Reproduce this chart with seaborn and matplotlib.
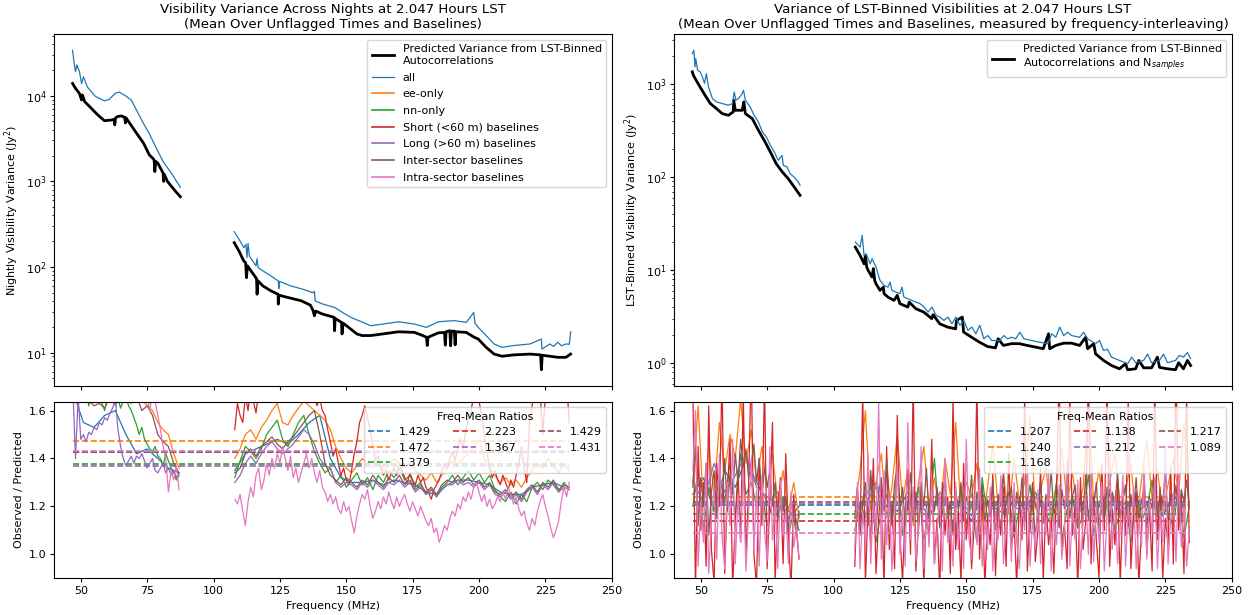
import numpy as np
import matplotlib
matplotlib.use("Agg")
import matplotlib.pyplot as plt
import seaborn as sns

plt.rcParams.update({
    "font.size": 8,
    "xtick.major.size": 2.8, "ytick.major.size": 2.8,
    "xtick.major.pad": 2.8, "ytick.major.pad": 2.8,
    "ytick.minor.size": 1.6, "axes.labelpad": 3.2,
})

# Series names and colours (tab10 order)
series_labels = ["all", "ee-only", "nn-only", "Short (<60 m) baselines",
                 "Long (>60 m) baselines", "Inter-sector baselines",
                 "Intra-sector baselines"]
palette = sns.color_palette("tab10")[:7]

# ---------------- top left: nightly variance (Jy^2) ----------------
nv_all_lo_f = [46.9, 47.4, 48.0, 48.5, 49.5, 50.3, 51.0, 52.5, 55.5, 58.9, 60.8,
               63.0, 64.5, 66.8, 69.0, 71.3, 73.5, 75.8, 78.0, 81.0, 84.0, 87.5]
nv_all_lo = [33900, 25100, 19100, 22900, 19100, 13800, 16600, 12600, 9800, 8700, 9100,
             10700, 11000, 10000, 8900, 6500, 4800, 3600, 2600, 1700, 1260, 850]
nv_pred_lo_f = [46.9, 48.0, 49.5, 50.3, 50.6, 51.5, 54.0, 56.3, 58.9, 61.6, 62.5,
                62.8, 63.1, 63.8, 65.3, 66.5, 66.8, 67.1, 67.6, 70.6, 73.6, 75.8,
                77.6, 77.9, 78.2, 79.0, 81.0, 81.2, 81.5, 82.6, 85.6, 87.5]
nv_pred_lo = [13900, 12200, 10600, 8900, 10200, 8500, 7100, 6000, 5100, 5200, 5300,
              4560, 5500, 5700, 5800, 5600, 4800, 5500, 5200, 3800, 2800, 2040,
              1790, 1300, 1710, 1630, 1250, 1000, 1200, 1000, 770, 660]
nv_all_hi_f = [107.8, 109.6, 111.4, 112.2, 112.6, 113.0, 113.5, 116.0, 116.4, 116.8,
               118.6, 121.6, 124.4, 124.6, 124.8, 129.1, 133.6, 137.4, 138.0, 138.3,
               141.2, 145.6, 148.6, 151.7, 154.7, 159.2, 163.7, 169.7, 175.7, 180.2,
               184.7, 190.7, 195.2, 198.0, 198.5, 199.7, 202.7, 205.7, 208.7, 213.2,
               219.2, 223.5, 223.7, 226.7, 228.0, 229.7, 231.0, 232.7, 234.0, 234.5]
nv_all_hi = [258, 210, 168, 184, 129, 188, 134, 103, 125, 98,
             90, 78.5, 68.7, 56, 68, 60, 55, 50, 52, 40,
             36.8, 33.7, 29.4, 25.8, 23.6, 20.6, 21.5, 22.9, 21.5, 19.7,
             22.9, 23.6, 22.5, 29.4, 22, 19.7, 15.8, 12.6, 11.5, 12.1,
             12.6, 14.4, 11.0, 12.6, 11.8, 13.2, 12.0, 12.6, 12.5, 17.5]
nv_pred_hi_f = [107.8, 109.6, 111.4, 112.1, 112.4, 112.8, 114.1, 116.2, 116.4, 116.7,
                118.6, 121.6, 124.3, 124.4, 124.6, 128.0, 133.0, 136.5, 137.5, 138.0,
                138.5, 141.0, 145.4, 145.6, 145.8, 148.2, 148.4, 148.8, 151.7, 154.0,
                156.0, 159.2, 163.7, 169.7, 175.7, 178.8, 180.2, 180.5, 180.8, 184.7,
                187.0, 187.3, 187.6, 189.0, 189.3, 189.6, 190.7, 191.0, 191.3, 195.2,
                198.2, 199.7, 202.7, 205.7, 208.7, 213.2, 219.2, 223.2, 223.5, 223.8,
                226.7, 229.7, 232.7, 234.5]
nv_pred_hi = [192, 153, 117, 112, 75, 103, 90, 73, 48, 69,
              60, 52.6, 48, 36.8, 46.8, 44, 40.3, 35.8, 30.8, 26.9,
              30.5, 28.2, 25.8, 18, 25.1, 22.5, 16.5, 22.1, 18.8, 16.5,
              15.8, 15.8, 16.5, 17.5, 17.2, 15.8, 15.1, 12.1, 15.1, 17,
              17.2, 12.2, 17.5, 18, 12, 17.8, 17.8, 12.3, 17.5, 17.2,
              15.1, 14.4, 11.5, 9.6, 9.06, 9.4, 9.6, 9.4, 6.3, 9.3,
              9.06, 8.8, 8.8, 9.6]

# ---------------- top right: LST-binned variance (Jy^2) ----------------
lv_all_lo_f = [46.8, 47.4, 47.8, 48.1, 48.8, 49.8, 50.6, 51.4, 52.1, 52.9, 54.4,
               55.9, 58.1, 60.4, 61.9, 62.6, 63.2, 64.1, 65.2, 66.1, 66.8, 68.6,
               70.1, 71.7, 73.2, 74.7, 76.2, 77.7, 79.2, 80.6, 81.1, 82.5, 83.7,
               85.2, 86.7, 87.4]
lv_all_lo = [2140, 2320, 1540, 1890, 1410, 1360, 1200, 1020, 1300, 935, 700,
             646, 620, 595, 620, 826, 673, 700, 761, 861, 673, 570,
             464, 393, 307, 271, 221, 187, 152, 172, 134, 129, 109,
             100, 89, 82]
lv_pred_lo_f = [46.8, 47.2, 48.6, 50.1, 51.6, 53.6, 55.9, 58.1, 60.4, 62.2, 62.4,
                63.0, 65.6, 66.2, 66.8, 69.4, 71.7, 73.9, 76.2, 78.4, 80.7, 82.9,
                85.2, 87.4]
lv_pred_lo = [1360, 1250, 1060, 898, 762, 620, 547, 483, 464, 504, 673,
              525, 525, 646, 483, 427, 320, 249, 187, 140, 114, 96.6,
              78.5, 63.8]
lv_all_hi_f = [108.2, 110.0, 110.8, 111.5, 112.3, 113.8, 114.5, 116.0, 117.5, 119.0,
               120.5, 121.3, 122.0, 123.5, 125.0, 125.8, 126.5, 128.0, 129.5, 131.0,
               132.6, 134.1, 135.6, 137.1, 138.6, 140.1, 141.6, 143.1, 144.6, 146.1,
               147.6, 149.1, 150.6, 152.1, 153.6, 155.1, 156.6, 158.1, 159.6, 162.6,
               164.1, 165.6, 167.1, 168.6, 170.2, 171.7, 174.7, 177.7, 180.7, 182.2,
               183.7, 185.2, 186.7, 188.2, 189.7, 192.7, 194.2, 195.7, 198.7, 200.2,
               201.7, 203.2, 204.7, 207.7, 210.8, 212.3, 213.8, 216.8, 218.3, 219.8,
               222.8, 224.3, 225.8, 228.8, 230.3, 231.8, 233.3, 234.5]
lv_all_hi = [20.1, 17.7, 23.7, 14.4, 15.0, 11.7, 13.3, 10.8, 7.77, 6.86,
             6.58, 7.45, 6.06, 5.82, 5.59, 6.58, 5.14, 4.93, 4.73, 4.54,
             4.36, 4.01, 3.54, 4.01, 3.26, 3.13, 2.88, 3.13, 2.65, 3.13,
             2.55, 2.88, 2.25, 2.44, 2.07, 2.55, 1.83, 1.98, 1.75, 1.75,
             1.98, 1.83, 1.90, 1.83, 2.15, 1.83, 1.75, 1.68, 1.62, 2.07,
             1.90, 2.44, 1.98, 2.15, 1.98, 1.90, 2.15, 1.83, 1.62, 1.75,
             1.37, 1.41, 1.16, 1.07, 0.985, 1.16, 1.01, 1.07, 1.25, 1.01,
             1.07, 1.25, 1.01, 1.07, 1.21, 1.16, 1.30, 1.12]
lv_pred_hi_f = [108.2, 110.0, 111.5, 112.0, 112.5, 113.0, 114.5, 115.0, 115.5, 116.0,
                117.5, 118.8, 119.0, 120.5, 122.8, 124.0, 125.0, 128.0, 128.5, 131.0,
                134.0, 137.0, 137.5, 140.0, 143.0, 146.0, 146.3, 148.5, 149.0, 152.0,
                155.0, 158.0, 161.0, 162.0, 164.0, 167.0, 170.0, 173.0, 176.0, 179.0,
                181.0, 181.4, 183.7, 186.7, 189.7, 192.7, 195.0, 195.7, 198.0, 198.7,
                201.7, 204.7, 207.7, 210.0, 210.8, 213.8, 215.0, 216.8, 219.8, 222.0,
                222.8, 225.8, 228.8, 230.0, 231.8, 233.3, 234.5]
lv_pred_hi = [17.7, 14.4, 11.7, 14.4, 10.8, 10.0, 8.44, 10.4, 7.77, 7.15,
              6.06, 6.58, 5.59, 5.14, 4.73, 5.36, 4.36, 4.01, 4.54, 3.85,
              3.54, 3.01, 3.32, 2.65, 2.44, 2.34, 2.88, 3.13, 2.16, 1.90,
              1.68, 1.51, 1.46, 1.83, 1.55, 1.62, 1.62, 1.55, 1.49, 1.43,
              2.07, 1.43, 1.55, 1.64, 1.64, 1.55, 1.90, 1.43, 1.62, 1.26,
              1.07, 0.944, 0.869, 0.985, 0.849, 0.869, 1.07, 0.891, 0.891, 1.16,
              0.90, 0.869, 0.849, 1.01, 0.869, 1.07, 0.944]

# ---------------- bottom left: observed / predicted (nightly) ----------------
f1_lo = np.arange(47, 88, 1)
f1_hi = np.arange(108, 235, 1)
f2_lo = np.arange(47, 88, 2)
f2_hi = np.arange(108, 235, 2)
f4_lo = np.arange(47, 88, 4)
f4_hi = np.arange(108, 235, 4)

nr_all_lo = [1.68, 1.55, 1.53, 1.58, 1.60, 1.50, 1.42, 1.44, 1.40, 1.36, 1.34]
nr_all_hi = [1.35, 1.42, 1.44, 1.46, 1.48, 1.46, 1.50, 1.55, 1.58, 1.40, 1.32, 1.30,
             1.30, 1.31, 1.29, 1.31, 1.30, 1.29, 1.26, 1.25, 1.29, 1.31, 1.31, 1.30,
             1.29, 1.26, 1.25, 1.25, 1.28, 1.29, 1.30, 1.28]
nr_ee_lo = [1.75, 1.72, 1.70, 1.73, 1.68, 1.71, 1.69, 1.72, 1.70, 1.68, 1.70,
            1.66, 1.68, 1.65, 1.62, 1.60, 1.55, 1.52, 1.50, 1.42, 1.36]
nr_ee_hi = [1.40, 1.44, 1.50, 1.52, 1.48, 1.53, 1.56, 1.60,
            1.63, 1.55, 1.54, 1.58, 1.61, 1.64, 1.62, 1.60,
            1.58, 1.56, 1.52, 1.45, 1.40, 1.36, 1.34, 1.37,
            1.40, 1.38, 1.36, 1.39, 1.35, 1.37, 1.40, 1.38,
            1.36, 1.39, 1.35, 1.33, 1.31, 1.34, 1.30, 1.33,
            1.36, 1.39, 1.37, 1.40, 1.42, 1.45, 1.48, 1.40,
            1.36, 1.33, 1.30, 1.32, 1.29, 1.31, 1.28, 1.32,
            1.35, 1.38, 1.36, 1.40, 1.37, 1.34, 1.38, 1.35]
nr_nn_lo = [1.72, 1.75, 1.68, 1.70, 1.66, 1.69, 1.62, 1.67, 1.70, 1.65,
            1.68, 1.63, 1.60, 1.66, 1.64, 1.68, 1.62, 1.65, 1.61, 1.64,
            1.66, 1.62, 1.60, 1.57, 1.54, 1.50, 1.53, 1.48, 1.46, 1.44,
            1.43, 1.45, 1.41, 1.40, 1.37, 1.42, 1.39, 1.36, 1.34, 1.31,
            1.33]
nr_nn_hi = [1.32, 1.39, 1.45, 1.43, 1.40, 1.44, 1.50, 1.53,
            1.56, 1.48, 1.45, 1.50, 1.55, 1.58, 1.50, 1.43,
            1.38, 1.34, 1.36, 1.30, 1.33, 1.28, 1.31, 1.34,
            1.29, 1.32, 1.27, 1.33, 1.30, 1.35, 1.32, 1.36,
            1.31, 1.33, 1.28, 1.30, 1.25, 1.27, 1.24, 1.28,
            1.30, 1.33, 1.29, 1.32, 1.35, 1.31, 1.34, 1.30,
            1.33, 1.27, 1.24, 1.22, 1.26, 1.21, 1.25, 1.22,
            1.28, 1.30, 1.27, 1.31, 1.29, 1.26, 1.30, 1.27]
nr_short_lo = [2.6, 2.4, 2.5, 2.3, 2.4, 2.2, 2.3, 2.1, 2.2, 2.0, 2.1,
               1.95, 2.0, 1.9, 1.85, 1.9, 1.8, 1.85, 1.75, 1.8, 1.7]
nr_short_hi = [1.52, 1.63, 1.58, 1.55, 1.66, 1.60, 1.70, 1.64, 1.59, 1.68,
               1.72, 1.75, 1.70, 1.78, 1.74, 1.80, 1.76, 1.73, 1.79, 1.75,
               1.77, 1.82, 1.74, 1.78, 1.80, 1.76, 1.72, 1.79, 1.74, 1.70,
               1.66, 1.62, 1.65, 1.60, 1.58, 1.52, 1.47, 1.41, 1.44, 1.38,
               1.33, 1.36, 1.31, 1.29, 1.35, 1.42, 1.47, 1.55, 1.58, 1.62,
               1.57, 1.52, 1.45, 1.39, 1.41, 1.36, 1.33, 1.35, 1.31, 1.34,
               1.36, 1.33, 1.38, 1.35, 1.32, 1.30, 1.34, 1.31, 1.29, 1.33,
               1.30, 1.32, 1.28, 1.26, 1.23, 1.27, 1.29, 1.31, 1.35, 1.38,
               1.36, 1.40, 1.43, 1.39, 1.45, 1.48, 1.44, 1.52, 1.56, 1.60,
               1.66, 1.70, 1.64, 1.58, 1.50, 1.42, 1.36, 1.32, 1.35, 1.31,
               1.29, 1.33, 1.30, 1.27, 1.31, 1.28, 1.33, 1.38, 1.45, 1.36,
               1.30, 1.55, 1.62, 1.70, 1.75, 1.68, 1.50, 1.66, 1.72, 1.80,
               1.76, 1.70, 1.82, 1.74, 1.68, 1.72, 1.55]
nr_long_lo = [1.70, 1.40, 1.66, 1.48, 1.50, 1.47, 1.51, 1.50, 1.53, 1.52,
              1.55, 1.54, 1.57, 1.56, 1.59, 1.61, 1.65, 1.52, 1.45, 1.40,
              1.37, 1.39, 1.41, 1.38, 1.41, 1.40, 1.42, 1.39, 1.36, 1.38,
              1.40, 1.35, 1.34, 1.36, 1.38, 1.34, 1.36, 1.33, 1.35, 1.32,
              1.34]
nr_long_hi = [1.30, 1.33, 1.38, 1.41, 1.38, 1.42, 1.45, 1.47,
              1.44, 1.42, 1.44, 1.46, 1.49, 1.52, 1.50, 1.46,
              1.40, 1.37, 1.36, 1.30, 1.28, 1.30, 1.29, 1.27,
              1.30, 1.28, 1.31, 1.29, 1.27, 1.30, 1.29, 1.31,
              1.28, 1.30, 1.26, 1.28, 1.25, 1.27, 1.24, 1.27,
              1.29, 1.29, 1.31, 1.29, 1.30, 1.28, 1.30, 1.27,
              1.29, 1.25, 1.24, 1.26, 1.23, 1.25, 1.22, 1.26,
              1.28, 1.25, 1.29, 1.27, 1.30, 1.26, 1.28, 1.27]
nr_inter_lo = [1.68, 1.70, 1.66, 1.64, 1.62, 1.63, 1.61, 1.66, 1.64, 1.67, 1.65,
               1.63, 1.66, 1.60, 1.62, 1.58, 1.50, 1.47, 1.45, 1.38, 1.34]
nr_inter_hi = [1.34, 1.36, 1.42, 1.44, 1.41, 1.45, 1.47, 1.49,
               1.46, 1.44, 1.47, 1.49, 1.52, 1.55, 1.58, 1.60,
               1.50, 1.38, 1.33, 1.31, 1.29, 1.32, 1.30, 1.28,
               1.31, 1.29, 1.33, 1.30, 1.28, 1.32, 1.30, 1.33,
               1.29, 1.31, 1.27, 1.29, 1.26, 1.28, 1.25, 1.29,
               1.31, 1.30, 1.33, 1.30, 1.32, 1.29, 1.31, 1.28,
               1.30, 1.26, 1.25, 1.27, 1.24, 1.26, 1.23, 1.27,
               1.29, 1.26, 1.30, 1.28, 1.31, 1.27, 1.29, 1.28]
nr_intra_lo = [1.70, 1.66, 1.82, 1.88, 1.85, 1.92, 1.87, 1.90, 1.84, 1.89,
               1.86, 1.91, 1.88, 1.85, 1.90, 1.87, 1.83, 1.86, 1.80, 1.84,
               1.78, 1.82, 1.76, 1.79, 1.74, 1.77, 1.72, 1.70, 1.66, 1.60,
               1.68, 1.64, 1.58, 1.52, 1.45, 1.40, 1.26, 1.35, 1.31, 1.37,
               1.27]
nr_intra_hi = [1.23, 1.21, 1.25, 1.18, 1.12, 1.22, 1.28, 1.24, 1.33, 1.36,
               1.27, 1.31, 1.38, 1.33, 1.40, 1.36, 1.42, 1.38, 1.45, 1.40,
               1.35, 1.41, 1.32, 1.36, 1.30, 1.34, 1.38, 1.42, 1.36, 1.40,
               1.34, 1.30, 1.35, 1.28, 1.26, 1.22, 1.25, 1.21, 1.24, 1.19,
               1.17, 1.22, 1.18, 1.20, 1.14, 1.09, 1.16, 1.21, 1.25, 1.23,
               1.27, 1.20, 1.15, 1.18, 1.22, 1.19, 1.24, 1.21, 1.26, 1.22,
               1.19, 1.24, 1.20, 1.23, 1.25, 1.21, 1.18, 1.22, 1.19, 1.16,
               1.20, 1.17, 1.14, 1.12, 1.15, 1.09, 1.11, 1.05, 1.08, 1.12,
               1.10, 1.15, 1.18, 1.16, 1.21, 1.19, 1.24, 1.22, 1.26, 1.23,
               1.28, 1.30, 1.26, 1.22, 1.25, 1.20, 1.23, 1.19, 1.21, 1.24,
               1.22, 1.26, 1.23, 1.28, 1.25, 1.21, 1.24, 1.19, 1.16, 1.18,
               1.13, 1.10, 1.15, 1.12, 1.18, 1.22, 1.25, 1.20, 1.16, 1.11,
               1.07, 1.10, 1.14, 1.22, 1.28, 1.24, 1.30]
nr_means = [1.429, 1.472, 1.379, 2.223, 1.367, 1.429, 1.431]

# ---------------- bottom right: observed / predicted (LST-binned) ----------------
lr_all_lo = [1.25, 1.32, 1.18, 1.35, 1.28, 1.40, 1.30, 1.22, 1.26, 1.15, 1.20]
lr_all_hi = [1.15, 1.25, 1.30, 1.20, 1.18, 1.26, 1.22, 1.16, 1.24, 1.19, 1.21,
             1.14, 1.25, 1.20, 1.17, 1.23, 1.19, 1.26, 1.15, 1.22, 1.20, 1.24,
             1.18, 1.21, 1.25, 1.17, 1.22, 1.19, 1.23, 1.16, 1.24, 1.20]
lr_ee_lo = [1.30, 1.62, 1.20, 1.45, 1.25, 1.55, 1.35, 1.50, 1.40, 1.65, 1.38,
            1.52, 1.30, 1.45, 1.28, 1.42, 1.22, 1.35, 1.18, 1.30, 1.15]
lr_ee_hi = [1.20, 1.35, 1.60, 1.18, 1.30, 1.42, 1.15, 1.28,
            1.50, 1.22, 1.36, 1.12, 1.30, 1.45, 1.20, 1.32,
            1.16, 1.40, 1.25, 1.55, 1.18, 1.30, 1.24, 1.38,
            1.14, 1.28, 1.46, 1.20, 1.33, 1.17, 1.40, 1.22,
            1.30, 1.58, 1.19, 1.27, 1.36, 1.15, 1.30, 1.44,
            1.21, 1.34, 1.18, 1.28, 1.62, 1.22, 1.35, 1.16,
            1.30, 1.42, 1.20, 1.27, 1.38, 1.14, 1.31, 1.48,
            1.23, 1.35, 1.18, 1.29, 1.40, 1.25, 1.55, 1.21]
lr_nn_lo = [1.20, 1.35, 1.10, 1.28, 1.18, 1.32, 1.22, 1.38, 1.15, 1.42, 1.25,
            1.30, 1.20, 1.26, 1.12, 1.22, 1.15, 1.24, 1.08, 1.18, 1.10]
lr_nn_hi = [1.10, 1.22, 1.15, 1.30, 1.05, 1.18, 1.25, 1.12,
            1.35, 1.08, 1.20, 1.14, 1.28, 1.06, 1.19, 1.40,
            1.11, 1.24, 1.16, 1.09, 1.27, 1.13, 1.21, 1.05,
            1.32, 1.15, 1.22, 1.10, 1.18, 1.26, 1.07, 1.20,
            1.14, 1.29, 1.09, 1.23, 1.17, 1.12, 1.30, 1.06,
            1.19, 1.24, 1.11, 1.16, 1.33, 1.08, 1.21, 1.15,
            1.27, 1.10, 1.18, 1.22, 1.05, 1.26, 1.14, 1.19,
            1.31, 1.09, 1.23, 1.16, 1.12, 1.28, 1.07, 1.20]
lr_short_lo = [1.70, 0.85, 1.45, 1.10, 1.30, 0.95, 1.62, 1.02, 0.88, 1.38,
               1.20, 1.75, 0.92, 1.25, 1.48, 0.86, 1.15, 1.35, 1.05, 1.68,
               0.98, 1.28, 1.80, 1.00, 0.87, 1.40, 1.12, 1.72, 0.94, 1.22,
               1.55, 0.89, 1.18, 1.32, 0.96, 1.42, 1.08, 0.86, 1.25, 1.10,
               0.98]
lr_short_hi = [0.95, 1.25, 1.10, 1.68, 0.88, 1.20, 1.05, 1.40, 0.92, 1.15,
               1.30, 0.86, 1.45, 1.02, 1.22, 0.94, 1.58, 1.08, 0.89, 1.18,
               1.35, 1.00, 1.72, 0.93, 1.12, 1.28, 0.87, 1.20, 1.05, 1.48,
               0.96, 1.15, 0.85, 1.30, 1.08, 1.24, 0.92, 1.65, 1.02, 1.18,
               0.88, 1.38, 1.06, 1.22, 0.94, 1.12, 1.70, 0.98, 1.26, 0.86,
               1.16, 1.04, 1.34, 0.91, 1.20, 1.08, 1.28, 0.95, 1.42, 1.02,
               1.14, 0.87, 1.24, 1.06, 1.66, 0.93, 1.18, 1.30, 0.97, 1.10,
               1.36, 0.89, 1.22, 1.04, 1.15, 0.92, 1.28, 1.75, 1.00, 1.12,
               0.94, 1.68, 1.08, 1.20, 0.86, 1.32, 1.02, 1.14, 1.78, 0.96,
               1.24, 1.06, 0.90, 1.38, 1.10, 1.72, 0.95, 1.18, 1.04, 1.30,
               0.88, 1.22, 1.08, 1.64, 0.94, 1.16, 1.26, 0.87, 1.12, 1.34,
               1.00, 1.20, 0.93, 1.70, 1.06, 1.28, 0.90, 1.15, 1.04, 1.36,
               0.96, 1.80, 1.10, 1.25, 0.92, 1.66, 1.05]
lr_long_lo = [1.30, 1.22, 1.38, 1.26, 1.33, 1.42, 1.28, 1.24, 1.20, 1.18, 1.16]
lr_long_hi = [1.18, 1.22, 1.28, 1.17, 1.21, 1.24, 1.19, 1.15, 1.26, 1.20, 1.23,
              1.16, 1.22, 1.19, 1.25, 1.20, 1.17, 1.24, 1.18, 1.21, 1.23, 1.19,
              1.16, 1.22, 1.26, 1.18, 1.20, 1.23, 1.21, 1.17, 1.25, 1.19]
lr_inter_lo = [1.28, 1.45, 1.12, 1.32, 1.20, 1.38, 1.08, 1.26, 1.35, 1.15,
               1.30, 1.22, 1.40, 1.18, 1.34, 1.25, 1.42, 1.30, 1.48, 1.36,
               1.44, 1.32, 1.38, 1.46, 1.30, 1.40, 1.24, 1.36, 1.28, 1.34,
               1.20, 1.30, 1.14, 1.26, 1.18, 1.24, 1.10, 1.22, 1.16, 1.08,
               1.18]
lr_inter_hi = [1.15, 1.28, 1.08, 1.22, 1.30, 1.12, 1.35, 1.20, 1.10, 1.26,
               1.32, 1.18, 1.40, 1.24, 1.14, 1.30, 1.36, 1.20, 1.28, 1.12,
               1.22, 1.34, 1.16, 1.26, 1.10, 1.30, 1.20, 1.36, 1.14, 1.24,
               1.18, 1.28, 1.12, 1.25, 1.32, 1.15, 1.22, 1.08, 1.27, 1.19,
               1.30, 1.14, 1.24, 1.20, 1.33, 1.11, 1.26, 1.18, 1.29, 1.13,
               1.23, 1.16, 1.31, 1.10, 1.25, 1.20, 1.34, 1.15, 1.22, 1.28,
               1.12, 1.26, 1.19, 1.32, 1.14, 1.24, 1.09, 1.28, 1.21, 1.17,
               1.30, 1.13, 1.25, 1.20, 1.35, 1.16, 1.23, 1.11, 1.27, 1.19,
               1.31, 1.15, 1.24, 1.29, 1.12, 1.22, 1.18, 1.33, 1.14, 1.26,
               1.20, 1.30, 1.10, 1.24, 1.17, 1.28, 1.13, 1.26, 1.21, 1.34,
               1.15, 1.23, 1.29, 1.12, 1.25, 1.18, 1.32, 1.14, 1.22, 1.27,
               1.11, 1.24, 1.19, 1.30, 1.16, 1.26, 1.21, 1.35, 1.13, 1.25,
               1.18, 1.29, 1.15, 1.27, 1.22, 1.31, 1.20]
lr_intra_lo = [1.35, 1.60, 0.95, 1.22, 1.05, 1.38, 0.92, 1.15, 1.28, 0.98,
               1.42, 1.08, 0.94, 1.30, 1.12, 1.48, 0.96, 1.25, 1.05, 1.36,
               0.93, 1.18, 1.40, 1.02, 1.27, 0.95, 1.33, 1.10, 0.97, 1.45,
               1.06, 1.22, 0.94, 1.31, 1.08, 1.18, 0.96, 1.26, 1.03, 1.12,
               0.99]
lr_intra_hi = [1.02, 1.30, 0.94, 1.18, 1.05, 1.42, 0.96, 1.22, 1.08, 1.63,
               0.98, 1.35, 1.04, 1.25, 0.93, 1.15, 1.38, 1.00, 1.20, 0.95,
               1.55, 1.06, 1.28, 0.97, 1.12, 1.45, 0.94, 1.19, 1.03, 1.32,
               0.96, 1.10, 1.26, 0.93, 1.40, 1.05, 1.16, 0.95, 1.30, 1.02,
               1.22, 0.94, 1.48, 1.07, 0.98, 1.25, 1.04, 1.36, 0.95, 1.14,
               1.02, 1.28, 0.93, 1.18, 1.06, 1.33, 0.96, 1.12, 1.24, 0.97,
               1.30, 1.05, 0.94, 1.20, 1.10, 1.38, 0.95, 1.15, 1.02, 1.27,
               0.96, 1.22, 1.08, 1.35, 0.93, 1.17, 1.04, 1.29, 0.98, 1.12,
               1.40, 0.95, 1.19, 1.06, 1.31, 0.94, 1.14, 1.25, 1.00, 1.36,
               0.97, 1.21, 1.05, 1.30, 0.93, 1.16, 1.42, 1.02, 1.24, 0.96,
               1.11, 1.33, 0.95, 1.20, 1.07, 1.28, 0.94, 1.15, 1.03, 1.37,
               0.98, 1.23, 1.09, 1.32, 0.94, 1.18, 1.05, 1.45, 0.96, 1.14,
               1.26, 0.97, 1.35, 1.03, 1.20, 0.95, 1.10]
lr_means = [1.207, 1.240, 1.168, 1.138, 1.212, 1.217, 1.089]

night_ratios = [
    (f4_lo, nr_all_lo, f4_hi, nr_all_hi),
    (f2_lo, nr_ee_lo, f2_hi, nr_ee_hi),
    (f1_lo, nr_nn_lo, f2_hi, nr_nn_hi),
    (f2_lo, nr_short_lo, f1_hi, nr_short_hi),
    (f1_lo, nr_long_lo, f2_hi, nr_long_hi),
    (f2_lo, nr_inter_lo, f2_hi, nr_inter_hi),
    (f1_lo, nr_intra_lo, f1_hi, nr_intra_hi),
]
lst_ratios = [
    (f4_lo, lr_all_lo, f4_hi, lr_all_hi),
    (f2_lo, lr_ee_lo, f2_hi, lr_ee_hi),
    (f2_lo, lr_nn_lo, f2_hi, lr_nn_hi),
    (f1_lo, lr_short_lo, f1_hi, lr_short_hi),
    (f4_lo, lr_long_lo, f4_hi, lr_long_hi),
    (f1_lo, lr_inter_lo, f1_hi, lr_inter_hi),
    (f1_lo, lr_intra_lo, f1_hi, lr_intra_hi),
]
band_edges = [47, 234]


def line(ax, x, y, **kw):
    n = min(len(x), len(y))
    sns.lineplot(x=list(x[:n]), y=list(y[:n]), ax=ax, estimator=None, sort=False, **kw)
    return ax.lines[-1]


# Build the figure
fig = plt.figure(figsize=(12.5, 6.15), dpi=100)
ax_bl = fig.add_axes([0.0434, 0.0597, 0.4460, 0.2871])
ax_tl = fig.add_axes([0.0434, 0.3728, 0.4460, 0.5714], sharex=ax_bl)
ax_br = fig.add_axes([0.5394, 0.0597, 0.4460, 0.2871])
ax_tr = fig.add_axes([0.5394, 0.3728, 0.4460, 0.5714], sharex=ax_br)

# Top left panel
h_pred = line(ax_tl, nv_pred_lo_f, nv_pred_lo, color="k", lw=2)
line(ax_tl, nv_pred_hi_f, nv_pred_hi, color="k", lw=2)
h_all = line(ax_tl, nv_all_lo_f, nv_all_lo, color=palette[0], lw=0.9)
line(ax_tl, nv_all_hi_f, nv_all_hi, color=palette[0], lw=0.9)
handles = [h_pred, h_all]
for c in palette[1:]:
    handles += ax_tl.plot([], [], color=c, lw=1.2)
ax_tl.set_yscale("log")
ax_tl.legend(handles, ["Predicted Variance from LST-Binned\nAutocorrelations"] + series_labels,
             loc="upper right", labelspacing=0.6)
ax_tl.set_ylabel("Nightly Visibility Variance (Jy$^2$)")
ax_tl.set_title("Visibility Variance Across Nights at 2.047 Hours LST\n"
                "(Mean Over Unflagged Times and Baselines)", pad=4.5)
ax_tl.tick_params(labelbottom=False)

# Top right panel
h_pred = line(ax_tr, lv_pred_lo_f, lv_pred_lo, color="k", lw=2)
line(ax_tr, lv_pred_hi_f, lv_pred_hi, color="k", lw=2)
line(ax_tr, lv_all_lo_f, lv_all_lo, color=palette[0], lw=0.9)
line(ax_tr, lv_all_hi_f, lv_all_hi, color=palette[0], lw=0.9)
ax_tr.set_yscale("log")
ax_tr.legend([h_pred], ["Predicted Variance from LST-Binned\nAutocorrelations and N$_{samples}$"],
             loc="upper right")
ax_tr.set_ylabel("LST-Binned Visibility Variance (Jy$^2$)")
ax_tr.set_title("Variance of LST-Binned Visibilities at 2.047 Hours LST\n"
                "(Mean Over Unflagged Times and Baselines, measured by frequency-interleaving)",
                pad=4.5)
ax_tr.tick_params(labelbottom=False)

# Bottom panels: ratios and their frequency means
for ax, ratios, means in [(ax_bl, night_ratios, nr_means), (ax_br, lst_ratios, lr_means)]:
    dash_handles = []
    for (flo, rlo, fhi, rhi), m, c in zip(ratios, means, palette):
        line(ax, flo, rlo, color=c, lw=0.9)
        line(ax, fhi, rhi, color=c, lw=0.9)
        dash_handles.append(line(ax, band_edges, [m, m], color=c, lw=1.2, linestyle="--"))
    ax.legend(dash_handles, [f"{m:.3f}" for m in means], title="Freq-Mean Ratios",
              ncol=3, loc="upper right")
    ax.set_ylim(0.9, 1.637)
    ax.set_xlim(40, 250)
    ax.set_xticks([50, 75, 100, 125, 150, 175, 200, 225, 250])
    ax.set_xlabel("Frequency (MHz)")
    ax.set_ylabel("Observed / Predicted")

fig.savefig("out.png", dpi=100)
